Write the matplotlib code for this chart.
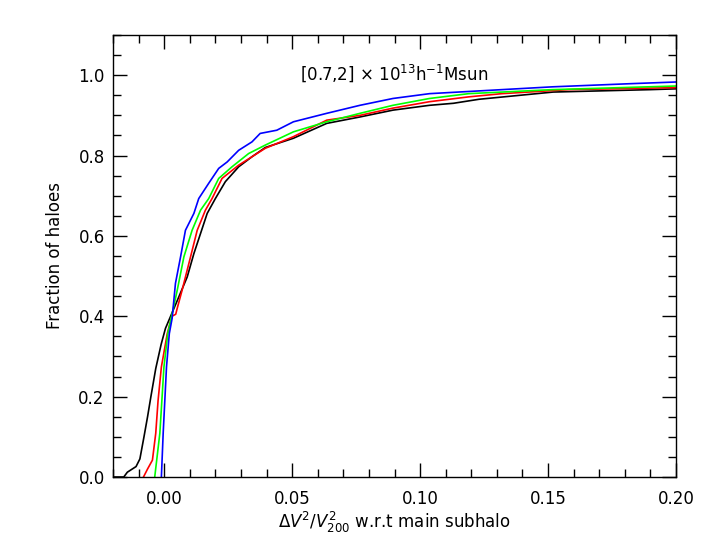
import matplotlib
matplotlib.use("Agg")
import matplotlib.pyplot as plt
from matplotlib.ticker import MultipleLocator

# cumulative fractions
black_x = [-0.020, -0.0158, -0.0144, -0.011, -0.0095, -0.0079, -0.0065, -0.0052, -0.0033,
           -0.0012, 0.0005, 0.0025, 0.0055, 0.009, 0.0116, 0.0142, 0.0168, 0.020, 0.0239,
           0.0291, 0.0343, 0.0395, 0.0505, 0.0635, 0.0765, 0.0894, 0.1037, 0.113, 0.123,
           0.152, 0.190, 0.200]
black_y = [0.0, 0.0, 0.012, 0.026, 0.045, 0.10, 0.15, 0.20, 0.27,
           0.33, 0.37, 0.40, 0.445, 0.498, 0.556, 0.606, 0.656, 0.693, 0.735,
           0.772, 0.797, 0.82, 0.843, 0.88, 0.896, 0.913, 0.925, 0.930, 0.940,
           0.958, 0.964, 0.966]

red_x = [-0.0081, -0.0065, -0.0046, -0.0033, -0.0024, -0.0011, 0.0012, 0.0030, 0.0045,
         0.0051, 0.0070, 0.0103, 0.0129, 0.0161, 0.0187, 0.0226, 0.0291, 0.0343, 0.0395,
         0.0505, 0.0635, 0.0765, 0.0894, 0.1037, 0.119, 0.132, 0.158, 0.200]
red_y = [0.0, 0.02, 0.042, 0.109, 0.19, 0.274, 0.357, 0.40, 0.405,
         0.42, 0.465, 0.548, 0.614, 0.664, 0.693, 0.743, 0.776, 0.797, 0.818,
         0.847, 0.888, 0.900, 0.918, 0.934, 0.946, 0.954, 0.964, 0.969]

green_x = [-0.0037, -0.0017, -0.0001, 0.0014, 0.0034, 0.0051, 0.0077, 0.0109, 0.0142,
           0.0174, 0.0213, 0.0265, 0.0330, 0.0395, 0.0505, 0.0635, 0.0765, 0.0894,
           0.1037, 0.119, 0.1517, 0.200]
green_y = [0.0, 0.109, 0.274, 0.357, 0.415, 0.465, 0.548, 0.614, 0.664,
           0.693, 0.743, 0.772, 0.805, 0.826, 0.859, 0.884, 0.905, 0.925,
           0.942, 0.954, 0.964, 0.973]

blue_x = [-0.0011, -0.0004, 0.0009, 0.0020, 0.0031, 0.0044, 0.0064, 0.0083, 0.0116,
          0.0135, 0.0174, 0.0213, 0.0246, 0.0291, 0.0343, 0.0375, 0.0440, 0.0505,
          0.0635, 0.0765, 0.0894, 0.1037, 0.1518, 0.183, 0.200]
blue_y = [0.0, 0.109, 0.274, 0.357, 0.395, 0.482, 0.548, 0.614, 0.656,
          0.693, 0.731, 0.768, 0.784, 0.813, 0.834, 0.855, 0.863, 0.884,
          0.905, 0.925, 0.942, 0.954, 0.971, 0.979, 0.983]

fig = plt.figure(figsize=(7.09, 5.5), dpi=100)
ax = fig.add_axes([0.1594, 0.1327, 0.7941, 0.8037])

ax.plot(black_x, black_y, color="black", lw=1.2)
ax.plot(red_x, red_y, color="#ff0000", lw=1.2)
ax.plot(green_x, green_y, color="#00ff00", lw=1.2)
ax.plot(blue_x, blue_y, color="#0000ff", lw=1.2)

ax.set_xlim(-0.02, 0.20)
ax.set_ylim(0.0, 1.1)
ax.xaxis.set_major_locator(MultipleLocator(0.05))
ax.xaxis.set_minor_locator(MultipleLocator(0.01))
ax.yaxis.set_major_locator(MultipleLocator(0.2))
ax.yaxis.set_minor_locator(MultipleLocator(0.05))
ax.xaxis.set_major_formatter(plt.FormatStrFormatter("%.2f"))
ax.yaxis.set_major_formatter(plt.FormatStrFormatter("%.1f"))
ax.tick_params(which="both", direction="in", top=True, right=True, width=1.0, labelsize=12)
ax.tick_params(which="major", length=10)
ax.tick_params(which="minor", length=6)
ax.tick_params(axis="x", pad=9)
ax.tick_params(axis="y", pad=6)
for s in ax.spines.values():
    s.set_linewidth(1.0)

ax.set_xlabel(r"$\Delta V^2/V^2_{200}$ w.r.t main subhalo", fontsize=12, labelpad=2)
ax.set_ylabel("Fraction of haloes", fontsize=12, labelpad=10)
ax.text(0.09, 1.005, r"[0.7,2] $\times$ 10$^{13}$h$^{-1}$Msun", fontsize=12,
        ha="center", va="center")

fig.savefig("out.png", dpi=100)
